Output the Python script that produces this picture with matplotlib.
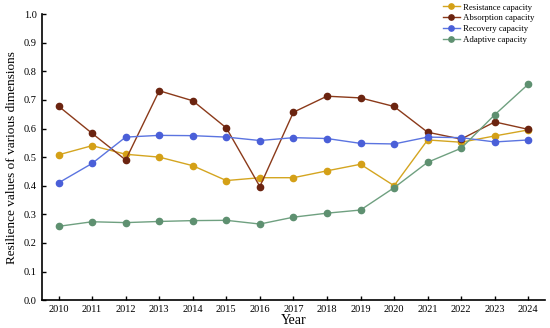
import matplotlib
matplotlib.use("Agg")
import matplotlib.pyplot as plt

years = list(range(2010, 2025))
resistance = [0.508, 0.540, 0.510, 0.500, 0.470, 0.418, 0.428, 0.428, 0.452, 0.475,
              0.400, 0.560, 0.552, 0.574, 0.595]
absorption = [0.678, 0.583, 0.490, 0.732, 0.697, 0.602, 0.397, 0.657, 0.713, 0.707,
              0.677, 0.587, 0.563, 0.623, 0.597]
recovery = [0.410, 0.478, 0.570, 0.576, 0.575, 0.570, 0.558, 0.568, 0.565, 0.548,
            0.546, 0.570, 0.568, 0.553, 0.560]
adaptive = [0.258, 0.274, 0.271, 0.275, 0.278, 0.279, 0.266, 0.290, 0.304, 0.315,
            0.393, 0.482, 0.531, 0.648, 0.755]

plt.rcParams['font.family'] = ['Liberation Serif', 'DejaVu Serif']

fig = plt.figure(figsize=(5.5, 3.28), dpi=100)
ax = fig.add_axes([0.076, 0.085, 0.915, 0.872])

series = [
    ("Resistance capacity", resistance, '#D4A520', '#D4A017'),
    ("Absorption capacity", absorption, '#8B3A1A', '#6B2410'),
    ("Recovery capacity", recovery, '#5B74E0', '#4A5FD8'),
    ("Adaptive capacity", adaptive, '#6FA080', '#5E9070'),
]
for label, vals, lc, mc in series:
    ax.plot(years, vals, color=lc, lw=1.0, marker='o', ms=4.5,
            markerfacecolor=mc, markeredgecolor=mc, label=label)

ax.set_xlim(2009.5, 2024.5)
ax.set_ylim(0, 1.0)
ax.set_xticks(years)
ax.set_yticks([i / 10 for i in range(11)])
ax.yaxis.set_major_formatter(matplotlib.ticker.FormatStrFormatter('%.1f'))
ax.tick_params(direction='in', labelsize=7.5, length=3, width=1)
for s in ['top', 'right']:
    ax.spines[s].set_visible(False)
for s in ['left', 'bottom']:
    ax.spines[s].set_linewidth(1.2)

ax.set_xlabel("Year", fontsize=10, labelpad=0)
ax.set_ylabel("Resilience values of various dimensions", fontsize=9.5, labelpad=4)

ax.legend(loc='upper right', bbox_to_anchor=(0.995, 1.065), frameon=False, fontsize=6.3,
          handlelength=1.9, labelspacing=0.3, handletextpad=0.4, markerscale=0.85)

fig.savefig("out.png", dpi=100)
